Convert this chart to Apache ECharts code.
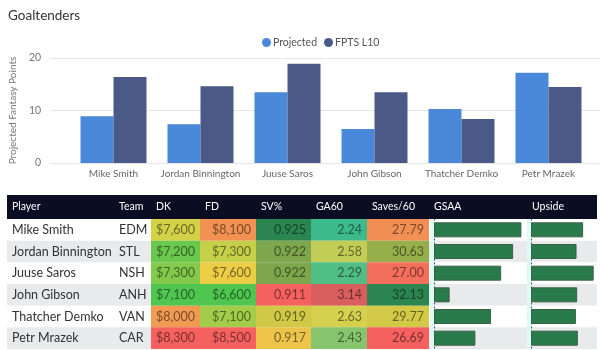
<!DOCTYPE html>
<html lang="en">
<head>
    <meta charset="UTF-8">
    <title>Goaltenders</title>
    <script src="https://cdn.jsdelivr.net/npm/echarts@6/dist/echarts.min.js"></script>
    <style>
        html, body { margin: 0; padding: 0; background: #fff; }
        #main { width: 600px; height: 350px; }
    </style>
</head>
<body>
<div id="main"></div>
<script type="text/javascript">
    // data
    var players = ['Mike Smith', 'Jordan Binnington', 'Juuse Saros', 'John Gibson', 'Thatcher Demko', 'Petr Mrazek'];
    var teams = ['EDM', 'STL', 'NSH', 'ANH', 'VAN', 'CAR'];
    var projected = [8.9, 7.4, 13.5, 6.5, 10.3, 17.2];
    var fptsL10 = [16.4, 14.6, 18.9, 13.5, 8.4, 14.5];
    var dk = [7600, 7200, 7300, 7100, 8000, 8300];
    var fd = [8100, 7300, 7600, 6600, 7100, 8500];
    var svPct = [0.925, 0.922, 0.922, 0.911, 0.919, 0.917];
    var ga60 = [2.24, 2.58, 2.29, 3.14, 2.63, 2.43];
    var saves60 = [27.79, 30.63, 27.00, 32.13, 29.77, 26.69];
    var gsaa = [9.5, 8.6, 7.3, 1.7, 6.2, 4.5];
    var upside = [7.9, 6.9, 9.5, 7.0, 6.8, 7.1];
    var yTicks = [0, 10, 20];

    var FONT = "Lato, 'Open Sans', sans-serif";
    var GREEN = '#4fc64f', YELLOW = '#ecd345', RED = '#f5615f',
        DGREEN = '#2b8551', TEAL = '#3cba8c', DRED = '#d95f5e';

    // table layout
    var HEAD_TOP = 195, HEAD_H = 24, TABLE_TOP = 219, TABLE_H = 130;
    var TABLE_LEFT = 7, TABLE_W = 590, TEAM_X = 119;

    function money(v) { return '$' + Math.round(v).toLocaleString('en-US'); }
    var heatCols = [
        {label: 'DK', data: dk, x: 151, w: 49, fmt: money, colors: [GREEN, YELLOW, RED]},
        {label: 'FD', data: fd, x: 200, w: 56, fmt: money, colors: [GREEN, YELLOW, RED]},
        {label: 'SV%', data: svPct, x: 256, w: 55, fmt: function (v) { return v.toFixed(3); }, colors: [RED, YELLOW, DGREEN]},
        {label: 'GA60', data: ga60, x: 311, w: 56, fmt: function (v) { return v.toFixed(2); }, colors: [TEAL, YELLOW, DRED]},
        {label: 'Saves/60', data: saves60, x: 367, w: 62, fmt: function (v) { return v.toFixed(2); }, colors: [RED, YELLOW, DGREEN]}
    ];
    var barCols = [
        {label: 'GSAA', data: gsaa, x: 434, w: 92, head: 434},
        {label: 'Upside', data: upside, x: 531, w: 66, head: 532}
    ];

    function darken(c, k) {
        var m, r, g, b;
        if (c.charAt(0) === '#') {
            r = parseInt(c.substr(1, 2), 16); g = parseInt(c.substr(3, 2), 16); b = parseInt(c.substr(5, 2), 16);
        } else {
            m = c.match(/[\d.]+/g);
            r = +m[0]; g = +m[1]; b = +m[2];
        }
        return 'rgb(' + Math.round(r * k) + ',' + Math.round(g * k) + ',' + Math.round(b * k) + ')';
    }

    var myChart = echarts.init(document.getElementById('main'), null, {renderer: 'canvas'});

    var grid = [
        {left: 43, right: 0, top: 58, height: 105},          // y axis + gridlines
        {left: 70, width: 522, top: 58, height: 105},        // bars
        {left: TABLE_LEFT, width: TABLE_W, top: TABLE_TOP, height: TABLE_H}  // table rows
    ];
    var xAxis = [
        {gridIndex: 0, type: 'value', show: false, min: 0, max: 1},
        {gridIndex: 1, type: 'category', data: players,
            axisLine: {show: false}, axisTick: {show: false},
            axisLabel: {color: '#666', fontSize: 10, fontFamily: FONT, margin: 6, interval: 0}},
        {gridIndex: 2, type: 'value', show: false, min: 0, max: 1}
    ];
    var yAxis = [
        {gridIndex: 0, type: 'value', min: yTicks[0], max: yTicks[yTicks.length - 1], interval: 10,
            name: 'Projected Fantasy Points', nameLocation: 'middle', nameGap: 28,
            nameTextStyle: {color: '#777', fontSize: 10, fontFamily: FONT},
            axisLine: {show: false}, axisTick: {show: false},
            axisLabel: {color: '#777', fontSize: 10.5, fontFamily: FONT, margin: 9},
            splitLine: {lineStyle: {color: '#e6e6e6'}}},
        {gridIndex: 1, type: 'value', show: false, min: yTicks[0], max: yTicks[yTicks.length - 1]},
        {gridIndex: 2, type: 'category', data: players, inverse: true,
            axisLine: {show: false}, axisTick: {show: false}, axisLabel: {show: false},
            splitLine: {show: false},
            splitArea: {show: true, areaStyle: {color: ['#ffffff', '#e9eaec']}}}
    ];

    var series = [
        {name: 'Projected', type: 'bar', xAxisIndex: 1, yAxisIndex: 1, data: projected,
            barWidth: 33, barGap: '0%', itemStyle: {color: '#4a88da'}},
        {name: 'FPTS L10', type: 'bar', xAxisIndex: 1, yAxisIndex: 1, data: fptsL10,
            barWidth: 33, barGap: '0%', itemStyle: {color: '#4b5986'}},
        {
            name: 'rows', type: 'custom', xAxisIndex: 2, yAxisIndex: 2,
            data: players.map(function (p, i) { return [0, i]; }),
            encode: {x: 0, y: 1},
            renderItem: function (params, api) {
                var y = api.coord([0, api.value(1)])[1];
                var i = params.dataIndex;
                return {
                    type: 'group', children: [
                        {type: 'text', style: {text: players[i], x: params.coordSys.x + 5, y: y,
                            verticalAlign: 'middle', fill: '#333', fontSize: 12.5, fontFamily: FONT}},
                        {type: 'text', style: {text: teams[i], x: TEAM_X, y: y,
                            verticalAlign: 'middle', fill: '#333', fontSize: 12.5, fontFamily: FONT}}
                    ]
                };
            }
        }
    ];
    var visualMap = [];

    heatCols.forEach(function (col) {
        var gi = grid.length;
        grid.push({left: col.x, width: col.w, top: TABLE_TOP, height: TABLE_H});
        xAxis.push({gridIndex: gi, type: 'value', show: false, min: 0, max: 1});
        yAxis.push({gridIndex: gi, type: 'category', data: players, inverse: true, show: false});
        visualMap.push({
            type: 'continuous', show: false, seriesIndex: series.length, dimension: 2,
            min: Math.min.apply(null, col.data), max: Math.max.apply(null, col.data),
            inRange: {color: col.colors}
        });
        series.push({
            name: col.label, type: 'custom', xAxisIndex: gi, yAxisIndex: gi,
            data: col.data.map(function (v, i) { return [0, i, v]; }),
            encode: {x: 0, y: 1},
            renderItem: function (params, api) {
                var cs = params.coordSys;
                var y = api.coord([0, api.value(1)])[1];
                var h = api.size([0, 1])[1];
                var fill = api.visual('color');
                return {
                    type: 'group', children: [
                        {type: 'rect', shape: {x: cs.x, y: y - h / 2, width: cs.width, height: h},
                            style: {fill: fill}},
                        {type: 'text', style: {text: col.fmt(api.value(2)), x: cs.x + cs.width - 5, y: y,
                            align: 'right', verticalAlign: 'middle', fill: darken(fill, 0.5),
                            fontSize: 12.5, fontFamily: FONT}}
                    ]
                };
            }
        });
    });

    barCols.forEach(function (col) {
        var gi = grid.length;
        grid.push({left: col.x, width: col.w, top: TABLE_TOP, height: TABLE_H});
        xAxis.push({gridIndex: gi, type: 'value', show: false, min: 0, max: 10});
        yAxis.push({gridIndex: gi, type: 'category', data: players, inverse: true,
            axisLine: {show: true, lineStyle: {color: '#444', type: [1, 3], width: 1}},
            axisTick: {show: false}, axisLabel: {show: false}});
        series.push({name: col.label, type: 'bar', xAxisIndex: gi, yAxisIndex: gi, data: col.data,
            barWidth: 15, itemStyle: {color: '#2a7b4b', borderColor: '#3b6047', borderWidth: 1}});
    });

    // table header
    var graphic = [
        {type: 'rect', left: TABLE_LEFT, top: HEAD_TOP, shape: {width: TABLE_W, height: HEAD_H},
            style: {fill: '#0b0e23'}, z: 0},
        {type: 'rect', left: 430, top: TABLE_TOP, shape: {width: 4, height: TABLE_H}, style: {fill: '#ddfaf4'}, z: 1},
        {type: 'rect', left: 527, top: TABLE_TOP, shape: {width: 4, height: TABLE_H}, style: {fill: '#ddfaf4'}, z: 1}
    ];
    var headers = [{label: 'Player', x: 12}, {label: 'Team', x: TEAM_X}]
        .concat(heatCols.map(function (c) { return {label: c.label, x: c.x + 5}; }))
        .concat(barCols.map(function (c) { return {label: c.label, x: c.head}; }));
    headers.forEach(function (h) {
        graphic.push({type: 'text', x: h.x, y: HEAD_TOP + HEAD_H / 2, z: 2,
            style: {text: h.label, fill: '#ffffff', fontSize: 10.5, fontFamily: FONT, verticalAlign: 'middle'}});
    });

    var option = {
        animation: false,
        title: {text: 'Goaltenders', left: 3, top: 4,
            textStyle: {color: '#333', fontSize: 13.5, fontWeight: 'normal', fontFamily: FONT}},
        legend: {
            data: ['Projected', 'FPTS L10'], left: 257, top: 32, icon: 'circle',
            itemWidth: 9, itemHeight: 9, itemGap: 7,
            textStyle: {color: '#555', fontSize: 10.5, fontFamily: FONT, padding: [0, 0, 0, -3]}
        },
        grid: grid,
        xAxis: xAxis,
        yAxis: yAxis,
        visualMap: visualMap,
        graphic: graphic,
        series: series
    };

    myChart.setOption(option);
</script>
</body>
</html>
